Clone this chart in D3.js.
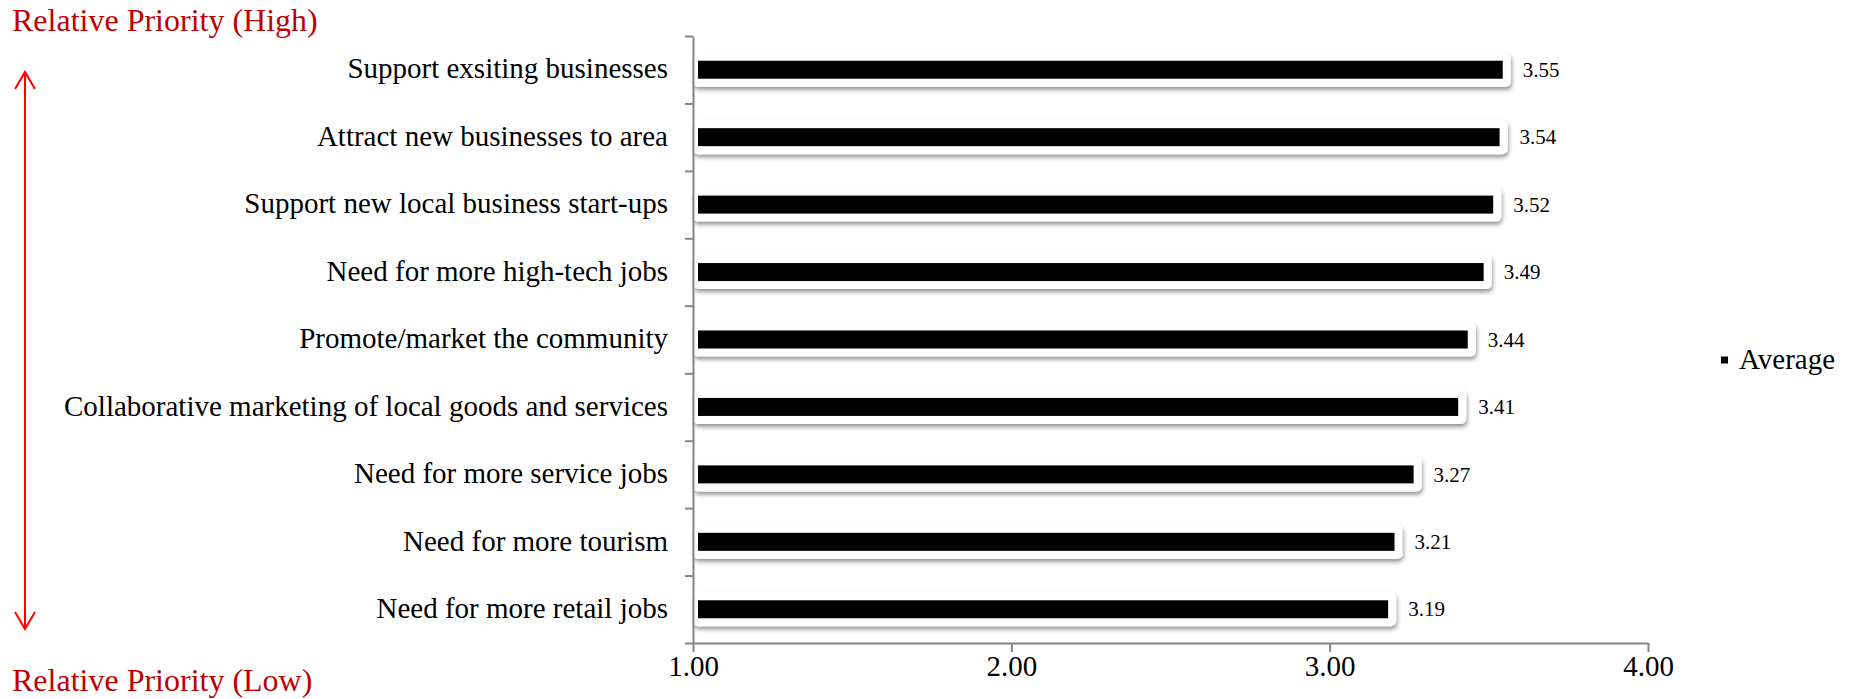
<!DOCTYPE html>
<html>
<head>
<meta charset="utf-8">
<script src="https://cdn.jsdelivr.net/npm/d3@7"></script>
<style>
  html, body { margin: 0; padding: 0; background: #fff; }
  svg { display: block; font-family: "Liberation Serif", "Times New Roman", serif; }
</style>
</head>
<body>
<svg id="chart" width="1860" height="699"></svg>
<script>
// Survey average per item (1 = low, 4 = high)
const categories = [
  'Support exsiting businesses',
  'Attract new businesses to area',
  'Support new local business start-ups',
  'Need for more high-tech jobs',
  'Promote/market the community',
  'Collaborative marketing of local goods and services',
  'Need for more service jobs',
  'Need for more tourism',
  'Need for more retail jobs'
];
const averages = [3.55, 3.54, 3.52, 3.49, 3.44, 3.41, 3.27, 3.21, 3.19];
const xTicks = [1, 2, 3, 4];
const seriesName = 'Average';
const highLabel = 'Relative Priority (High)';
const lowLabel = 'Relative Priority (Low)';

const svg = d3.select('#chart');
const axisColor = '#868686';

const x = d3.scaleLinear().domain([1, 4]).range([693, 1648]);
const y = d3.scaleBand().domain(categories).range([36, 643]).padding(0);
// index scale, used only for the boundary ticks on the category axis
const yIdx = d3.scaleLinear().domain([0, categories.length]).range([36, 643]);
const midY = i => y(categories[i]) + y.bandwidth() / 2;

// drop shadow for the bar frames
svg.append('defs').append('filter')
  .attr('id', 'barShadow')
  .attr('x', '-5%').attr('y', '-50%')
  .attr('width', '110%').attr('height', '200%')
  .append('feDropShadow')
  .attr('dx', 1).attr('dy', 3)
  .attr('stdDeviation', 2.2)
  .attr('flood-color', '#000')
  .attr('flood-opacity', 0.42);

// white frame behind each bar
const bars = svg.append('g');
bars.selectAll('rect.frame')
  .data(averages)
  .join('rect')
  .attr('class', 'frame')
  .attr('x', x(1))
  .attr('y', (d, i) => midY(i) - 17)
  .attr('width', d => x(d) - x(1) + 6)
  .attr('height', 34)
  .attr('rx', 5)
  .attr('fill', '#fff')
  .attr('filter', 'url(#barShadow)');

// black bars
bars.selectAll('rect.bar')
  .data(averages)
  .join('rect')
  .attr('class', 'bar')
  .attr('x', x(1) + 5)
  .attr('y', (d, i) => midY(i) - 9)
  .attr('width', d => x(d) - x(1) - 7)
  .attr('height', 18)
  .attr('fill', '#000');

// value labels
svg.append('g')
  .selectAll('text')
  .data(averages)
  .join('text')
  .attr('x', d => x(d) + 18)
  .attr('y', (d, i) => midY(i))
  .attr('dy', '0.34em')
  .attr('font-size', 21)
  .attr('fill', '#000')
  .text(d => d3.format('.2f')(d));

// x axis
const xAxis = svg.append('g')
  .attr('transform', 'translate(0,643)')
  .call(d3.axisBottom(x).tickValues(xTicks).tickFormat(d3.format('.2f')).tickSize(9).tickSizeOuter(0));
xAxis.select('.domain').attr('stroke', axisColor).attr('stroke-width', 2);
xAxis.selectAll('.tick line').attr('stroke', axisColor).attr('stroke-width', 2);
xAxis.selectAll('.tick text')
  .attr('font-family', '"Liberation Serif", "Times New Roman", serif')
  .attr('font-size', 29)
  .attr('fill', '#000')
  .attr('y', 33)
  .attr('dy', 0);

// y axis (ticks at category boundaries)
const yAxis = svg.append('g')
  .attr('transform', 'translate(693,0)')
  .call(d3.axisLeft(yIdx).tickValues(d3.range(categories.length + 1)).tickFormat('').tickSize(8).tickSizeOuter(0));
yAxis.select('.domain').attr('stroke', axisColor).attr('stroke-width', 2);
yAxis.selectAll('.tick line').attr('stroke', axisColor).attr('stroke-width', 2);

// category labels
svg.append('g')
  .selectAll('text')
  .data(categories)
  .join('text')
  .attr('x', 668)
  .attr('y', d => y(d) + y.bandwidth() / 2)
  .attr('dy', '0.3em')
  .attr('text-anchor', 'end')
  .attr('font-size', 29)
  .attr('fill', '#000')
  .text(d => d);

// legend
const legend = svg.append('g').attr('transform', 'translate(1721,360)');
legend.append('rect')
  .attr('x', 0).attr('y', -3.5)
  .attr('width', 7).attr('height', 7)
  .attr('fill', '#000');
legend.append('text')
  .attr('x', 18).attr('y', 0).attr('dy', '0.3em')
  .attr('font-size', 29)
  .text(seriesName);

// priority annotations
svg.append('text')
  .attr('x', 12).attr('y', 31)
  .attr('font-size', 32)
  .attr('fill', '#c00000')
  .text(highLabel);
svg.append('text')
  .attr('x', 12).attr('y', 691)
  .attr('font-size', 32)
  .attr('fill', '#c00000')
  .text(lowLabel);

// double-headed arrow
const arrow = svg.append('g')
  .attr('stroke', '#ff0000')
  .attr('stroke-width', 2)
  .attr('fill', 'none');
arrow.append('line')
  .attr('x1', 25).attr('y1', 72)
  .attr('x2', 25).attr('y2', 629);
arrow.append('polyline')
  .attr('points', '15,89 25,72 35,89');
arrow.append('polyline')
  .attr('points', '15,612 25,629 35,612');
</script>
</body>
</html>
